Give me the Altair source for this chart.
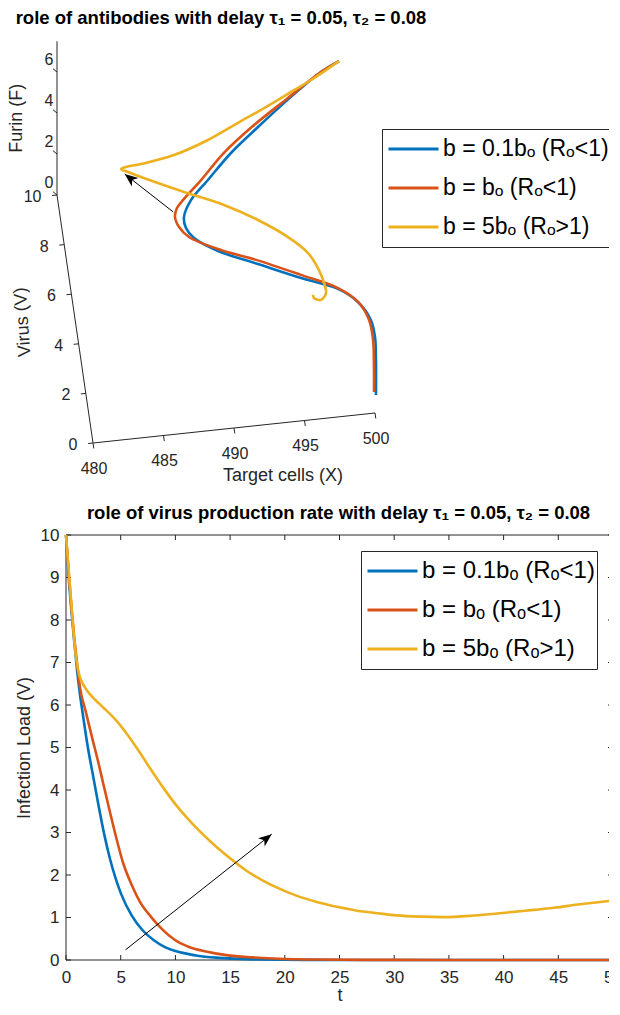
import altair as alt
import pandas as pd

SERIES = ["b = 0.1bₒ (Rₒ<1)", "b = bₒ (Rₒ<1)", "b = 5bₒ (Rₒ>1)"]
COLORS = ["#0072BD", "#D95319", "#EDB120"]
TOP_TITLE = "role of antibodies with delay τ₁ = 0.05, τ₂ = 0.08"
BOTTOM_TITLE = "role of virus production rate with delay τ₁ = 0.05, τ₂ = 0.08"

# ---------------- top panel: trajectories (X = target cells, V = virus, F = furin) -------------
x3_blue = [500.0, 498.65, 496.36, 493.82, 491.73, 489.91, 488.57, 487.95, 488.01, 488.50,
           490.08, 492.79, 495.70, 498.21, 499.51, 500.28, 500.44, 500.35, 500.07]
v3_blue = [10, 9.73, 9.09, 8.30, 7.62, 6.89, 6.35, 5.87, 5.54, 5.22,
           4.76, 4.25, 3.70, 3.26, 2.81, 2.23, 1.72, 1.12, 0.0]
f3_blue = [5.07, 4.96, 4.69, 4.36, 4.07, 3.77, 3.54, 3.34, 3.20, 3.06,
           2.87, 2.65, 2.42, 2.24, 2.05, 1.81, 1.59, 1.34, 0.87]

x3_red = [500.0, 498.65, 496.14, 493.40, 491.23, 489.42, 488.00, 487.52, 487.31, 487.52,
          488.14, 490.28, 492.67, 495.70, 498.20, 499.50, 500.13, 500.26, 500.13, 499.93]
v3_red = [10, 9.73, 9.06, 8.31, 7.62, 6.88, 6.34, 6.13, 5.86, 5.55,
          5.22, 4.73, 4.32, 3.73, 3.22, 2.74, 2.17, 1.56, 0.81, 0.0]
f3_red = [5.07, 4.96, 4.69, 4.39, 4.11, 3.81, 3.59, 3.50, 3.40, 3.27,
          3.14, 2.94, 2.78, 2.54, 2.33, 2.14, 1.91, 1.66, 1.36, 1.03]

x3_yel = [500.0, 497.76, 495.78, 494.23, 492.33, 489.89, 487.40, 485.0, 483.90, 483.52,
          483.99, 484.87, 487.81, 490.49, 492.72, 494.65, 495.89, 496.51, 496.74, 496.81,
          496.43, 495.98, 495.96]
v3_yel = [10, 9.0, 8.2, 7.7, 7.2, 6.8, 6.5, 6.25, 6.1, 6.0,
          5.9, 5.75, 5.3, 4.7, 4.0, 3.2, 2.5, 1.9, 1.4, 1.1,
          1.0, 1.2, 1.4]
f3_yel = [5.07, 5.52, 5.90, 6.03, 6.09, 5.83, 5.64, 5.68, 5.80, 5.85,
          5.79, 5.66, 5.26, 5.16, 5.11, 5.10, 5.08, 4.93, 4.89, 4.76,
          4.57, 4.45, 4.36]

top_x_ticks = [480, 485, 490, 495, 500]
top_v_ticks = [0, 2, 4, 6, 8, 10]
top_f_ticks = [0, 2, 4, 6]
top_arrow_from = [486.8, 4.36, 5.5]
top_arrow_to = [483.8, 6.07, 5.5]

# ---------------- bottom panel: infection load V(t) ----------------
t_blue = [0, 0.25, 0.5, 0.75, 1.0, 1.25, 1.5, 2.0, 2.5, 3.0, 3.5, 4.0, 4.5, 5.0, 6.0, 7.0,
          8.0, 9.0, 10, 11, 12, 14, 16, 18, 20, 25, 30, 40, 50]
v_blue = [10, 9.0, 8.2, 7.5, 6.85, 6.3, 5.85, 5.0, 4.3, 3.6, 2.95, 2.4, 1.95, 1.58, 1.05, 0.7,
          0.47, 0.31, 0.21, 0.15, 0.1, 0.05, 0.025, 0.012, 0.006, 0.001, 0, 0, 0]
t_red = [0, 0.25, 0.5, 0.75, 1.0, 1.28, 1.8, 2.37, 3.0, 3.45, 4.0, 4.53, 5.2, 5.98, 6.8, 7.79,
         8.8, 9.96, 11.3, 12.8, 14.5, 16.5, 19, 23, 30, 40, 50]
v_red = [10, 9.1, 8.3, 7.6, 7.0, 6.41, 5.85, 5.25, 4.6, 4.1, 3.5, 2.94, 2.3, 1.78, 1.35, 1.01,
         0.72, 0.47, 0.3, 0.2, 0.12, 0.07, 0.035, 0.01, 0.002, 0, 0]
t_yel = [0, 0.3, 0.6, 0.9, 1.2, 1.65, 2.2, 3.0, 3.45, 4.5, 5.62, 6.7, 7.79, 8.9, 9.96, 11.0,
         12.1, 13.2, 14.3, 15.4, 16.5, 18, 19.4, 21, 23, 25, 26.6, 28.5, 30.2, 32.5, 34.5, 37,
         39.2, 42, 44.6, 47, 50]
v_yel = [10, 9.0, 8.0, 7.15, 6.72, 6.45, 6.25, 6.04, 5.93, 5.66, 5.30, 4.90, 4.47, 4.05, 3.68, 3.36,
         3.06, 2.79, 2.54, 2.31, 2.10, 1.87, 1.69, 1.52, 1.36, 1.24, 1.16, 1.10, 1.05, 1.02, 1.01, 1.04,
         1.09, 1.16, 1.23, 1.31, 1.40]

bot_t_ticks = [0, 5, 10, 15, 20, 25, 30, 35, 40, 45, 50]
bot_v_ticks = [0, 1, 2, 3, 4, 5, 6, 7, 8, 9, 10]
bot_arrow_t = [5.44, 18.8]
bot_arrow_v = [0.24, 2.96]

# ---------------- styles ----------------
FONT = "Liberation Sans"
AX = "#262626"
LW = 2.6
ARROW = "M0,0 L0.4,1 L0,0.72 L-0.4,1 Z"

# view projection of the 3-D axes box onto the page plane
PX = "14.1*(datum.X-480)-3.6*datum.V"
PY = "1.5*(datum.X-480)+24.8*datum.V+20.5*datum.F"
PX2 = "14.1*(datum.X2-480)-3.6*datum.V2"
PY2 = "1.5*(datum.X2-480)+24.8*datum.V2+20.5*datum.F2"

TW, TH = 547, 482
BW, BH = 547, 425
GAP = 45

# ---------------- tables ----------------
rows = []
for s, xs_, vs_, fs_ in zip(SERIES, [x3_blue, x3_red, x3_yel], [v3_blue, v3_red, v3_yel],
                            [f3_blue, f3_red, f3_yel]):
    for i, (a, b, c) in enumerate(zip(xs_, vs_, fs_)):
        rows.append({"series": s, "idx": i, "X": a, "V": b, "F": c})
traj = pd.DataFrame(rows)

seg = [
    {"X": 480, "V": 0, "F": 0, "X2": 500, "V2": 0, "F2": 0},
    {"X": 480, "V": 0, "F": 0, "X2": 480, "V2": 10, "F2": 0},
    {"X": 480, "V": 10, "F": 0, "X2": 480, "V2": 10, "F2": 7.5},
]
for xt in top_x_ticks:
    seg.append({"X": xt, "V": 0, "F": 0, "X2": xt, "V2": -0.22, "F2": 0})
for vt in top_v_ticks:
    seg.append({"X": 480, "V": vt, "F": 0, "X2": 479.65, "V2": vt, "F2": 0})
for ft in top_f_ticks:
    seg.append({"X": 480, "V": 10, "F": ft, "X2": 479.75, "V2": 10.15, "F2": ft})
axes3 = pd.DataFrame(seg)

xlab = pd.DataFrame({"X": top_x_ticks, "V": 0, "F": 0, "label": [str(v) for v in top_x_ticks]})
vlab = pd.DataFrame({"X": 480, "V": top_v_ticks, "F": 0, "label": [str(v) for v in top_v_ticks]})
flab = pd.DataFrame({"X": 480, "V": 10, "F": top_f_ticks, "label": [str(v) for v in top_f_ticks]})

arrow3 = pd.DataFrame([{"X": top_arrow_from[0], "V": top_arrow_from[1], "F": top_arrow_from[2],
                        "X2": top_arrow_to[0], "V2": top_arrow_to[1], "F2": top_arrow_to[2]}])
arrow3_tip = pd.DataFrame([{"X": top_arrow_to[0], "V": top_arrow_to[1], "F": top_arrow_to[2]}])

xs = alt.X("px:Q", scale=alt.Scale(domain=[-27, 520], nice=False, zero=False), axis=None)
ys = alt.Y("py:Q", scale=alt.Scale(domain=[-47, 435], nice=False, zero=False), axis=None)


def proj(df):
    return alt.Chart(df).transform_calculate(px=PX, py=PY)


def proj2(df):
    return alt.Chart(df).transform_calculate(px=PX, py=PY, px2=PX2, py2=PY2)


legend_common = dict(
    orient="none", title=None, symbolType="stroke", symbolSize=2500, symbolStrokeWidth=3,
    labelFont=FONT, labelColor="black", strokeColor=AX, fillColor="white",
    padding=2, clipHeight=36, rowPadding=3, symbolOffset=3, cornerRadius=0,
    labelLimit=0,
)

axes_layer = proj2(axes3).mark_rule(color=AX, strokeWidth=1).encode(
    x=xs, y=ys, x2="px2:Q", y2="py2:Q")
xlab_layer = proj(xlab).mark_text(font=FONT, fontSize=16, color=AX, dx=1, dy=25.5).encode(
    x=xs, y=ys, text="label:N")
vlab_layer = proj(vlab).mark_text(font=FONT, fontSize=16, color=AX, align="right", dx=-15.5, dy=2).encode(
    x=xs, y=ys, text="label:N")
flab_layer = proj(flab).mark_text(font=FONT, fontSize=16, color=AX, dx=-8, dy=-12).encode(
    x=xs, y=ys, text="label:N")

xt_layer = proj(pd.DataFrame([{"X": 490, "V": 0, "F": 0, "label": "Target cells (X)"}])).mark_text(
    font=FONT, fontSize=18, color=AX, dx=49, dy=48).encode(x=xs, y=ys, text="label:N")
vt_layer = proj(pd.DataFrame([{"X": 480, "V": 5, "F": 0, "label": "Virus (V)"}])).mark_text(
    font=FONT, fontSize=18, color=AX, angle=266, dx=0.5, dy=-52).encode(x=xs, y=ys, text="label:N")
ft_layer = proj(pd.DataFrame([{"X": 480, "V": 10, "F": 3.5, "label": "Furin (F)"}])).mark_text(
    font=FONT, fontSize=18, color=AX, angle=270, dx=5, dy=-40).encode(x=xs, y=ys, text="label:N")

title_layer = alt.Chart(pd.DataFrame({"label": [TOP_TITLE]})).mark_text(
    font=FONT, fontSize=18.5, fontWeight="bold", color="black", baseline="alphabetic",
    align="center").encode(x=alt.value(155), y=alt.value(16), text="label:N")

traj_layer = proj(traj).mark_line(strokeWidth=LW, interpolate="catmull-rom").encode(
    x=xs, y=ys,
    color=alt.Color("series:N", scale=alt.Scale(domain=SERIES, range=COLORS),
                    legend=alt.Legend(legendX=316, legendY=121, labelFontSize=23, labelOffset=3,
                                      **legend_common)),
    order="idx:Q",
)
arrow_layer = proj2(arrow3).mark_rule(color="black", strokeWidth=1).encode(
    x=xs, y=ys, x2="px2:Q", y2="py2:Q")
head_layer = proj(arrow3_tip).mark_point(shape=ARROW, filled=True, size=700, angle=308.4,
                                          color="black", opacity=1, strokeWidth=0).encode(x=xs, y=ys)

top = alt.layer(axes_layer, xlab_layer, vlab_layer, flab_layer, xt_layer, vt_layer, ft_layer,
                title_layer, traj_layer, arrow_layer, head_layer).properties(width=TW, height=TH)

# ---------------- bottom chart ----------------
brows = []
for s, ts, vs in zip(SERIES, [t_blue, t_red, t_yel], [v_blue, v_red, v_yel]):
    for i, (a, b) in enumerate(zip(ts, vs)):
        brows.append({"series": s, "idx": i, "t": a, "V": b})
bdf = pd.DataFrame(brows)

tscale = alt.Scale(domain=[0, 50], nice=False, zero=False)
vscale = alt.Scale(domain=[0, 10], nice=False, zero=False)

bx = alt.X("t:Q", scale=tscale, axis=alt.Axis(
    values=bot_t_ticks, title="t", ticks=False, tickSize=0, domain=False, grid=False,
    labelFont=FONT, labelFontSize=17, labelColor=AX, labelPadding=9, labelFlush=False,
    labelOverlap=False, labelAngle=0, titleFont=FONT, titleFontSize=18, titleFontWeight="normal",
    titleColor=AX, titlePadding=1))
by = alt.Y("V:Q", scale=vscale, axis=alt.Axis(
    values=bot_v_ticks, title="Infection Load (V)", ticks=False, tickSize=0, domain=False, grid=False,
    labelFont=FONT, labelFontSize=17, labelColor=AX, labelPadding=7, labelFlush=False,
    labelOverlap=False, titleFont=FONT, titleFontSize=18, titleFontWeight="normal",
    titleColor=AX, titlePadding=7))

lines_b = alt.Chart(bdf).mark_line(strokeWidth=LW, interpolate="monotone").encode(
    x=bx, y=by,
    color=alt.Color("series:N", scale=alt.Scale(domain=SERIES, range=COLORS),
                    legend=alt.Legend(legendX=295, legendY=16, labelFontSize=24, labelOffset=3,
                                      **legend_common)),
    order="idx:Q",
)

tdf = pd.DataFrame({"t": bot_t_ticks})
vdf = pd.DataFrame({"V": bot_v_ticks})
tick_b = alt.Chart(tdf).mark_rule(color=AX, strokeWidth=1).encode(
    x=alt.X("t:Q", scale=tscale), y=alt.value(BH), y2=alt.value(BH - 5))
tick_t = alt.Chart(tdf).mark_rule(color=AX, strokeWidth=1).encode(
    x=alt.X("t:Q", scale=tscale), y=alt.value(0), y2=alt.value(5))
tick_l = alt.Chart(vdf).mark_rule(color=AX, strokeWidth=1).encode(
    y=alt.Y("V:Q", scale=vscale), x=alt.value(0), x2=alt.value(5))
tick_r = alt.Chart(vdf).mark_rule(color=AX, strokeWidth=1).encode(
    y=alt.Y("V:Q", scale=vscale), x=alt.value(BW), x2=alt.value(BW - 5))

frame_h = alt.Chart(pd.DataFrame({"V": [0, 10]})).mark_rule(color=AX, strokeWidth=1).encode(
    y=alt.Y("V:Q", scale=vscale))
frame_v = alt.Chart(pd.DataFrame({"t": [0, 50]})).mark_rule(color=AX, strokeWidth=1).encode(
    x=alt.X("t:Q", scale=tscale))

barrow = pd.DataFrame([{"t": bot_arrow_t[0], "V": bot_arrow_v[0], "t2": bot_arrow_t[1],
                        "V2": bot_arrow_v[1]}])
barrow_line = alt.Chart(barrow).mark_rule(color="black", strokeWidth=1).encode(
    x=alt.X("t:Q", scale=tscale), y=alt.Y("V:Q", scale=vscale), x2="t2:Q", y2="V2:Q")
barrow_head = alt.Chart(barrow).mark_point(shape=ARROW, filled=True, size=700, angle=51.2,
                                           color="black", opacity=1, strokeWidth=0).encode(
    x=alt.X("t2:Q", scale=tscale), y=alt.Y("V2:Q", scale=vscale))

bottom = alt.layer(frame_h, frame_v, tick_b, tick_t, tick_l, tick_r, lines_b,
                   barrow_line, barrow_head).properties(
    width=BW, height=BH,
    title=alt.Title(BOTTOM_TITLE, fontSize=18.5, fontWeight="bold", color="black", font=FONT,
                    anchor="middle", frame="group", dx=-1, offset=4),
)

chart = alt.vconcat(top, bottom, spacing=GAP, bounds="flush").resolve_scale(
    color="independent", x="independent", y="independent"
).properties(padding={"left": 0, "top": 0, "right": -14, "bottom": 0}).configure(
    font=FONT).configure_view(stroke=None)

chart.save("out.html", embed_options={"renderer": "svg", "actions": False})
